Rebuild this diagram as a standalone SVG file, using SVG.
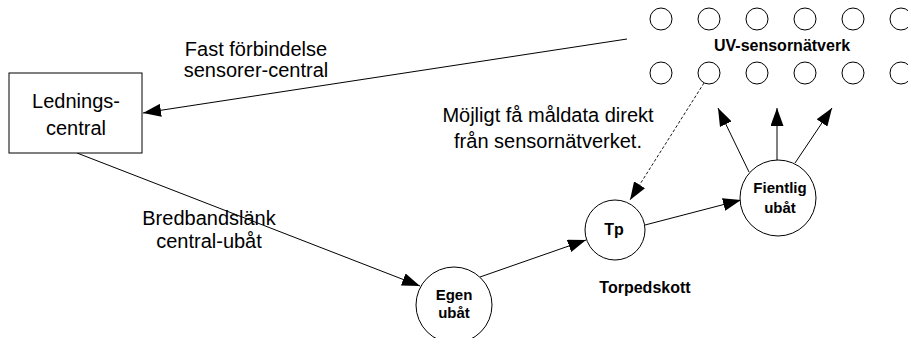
<svg xmlns="http://www.w3.org/2000/svg" width="908" height="338" viewBox="0 0 908 338">
<style>
.n{fill:#fff;stroke:#000;stroke-width:1}
.s{fill:none;stroke:#000;stroke-width:1}
.t{font-family:"Liberation Sans",Arial,sans-serif;font-size:20px;fill:#000;text-anchor:middle}
.b{font-family:"Liberation Sans",Arial,sans-serif;font-size:15px;font-weight:bold;fill:#000;text-anchor:middle}
.c{fill:none;stroke:#000;stroke-width:1}
.d{fill:none;stroke:#000;stroke-width:0.9;stroke-dasharray:3,2}
</style>
<defs>
<marker id="ah" markerUnits="userSpaceOnUse" markerWidth="19" markerHeight="13" refX="18" refY="6.5" orient="auto">
<path d="M0,0 L18,6.5 L0,13 z" fill="#000"/>
</marker>
</defs>
<rect width="908" height="338" fill="#fff"/>
<g id="connectors">
<line class="c" x1="627" y1="39" x2="143" y2="113" marker-end="url(#ah)"/>
<line class="c" x1="77" y1="153" x2="420" y2="286" marker-end="url(#ah)"/>
<line class="c" x1="480" y1="277" x2="586" y2="240" marker-end="url(#ah)"/>
<line class="c" x1="645" y1="225" x2="741" y2="200" marker-end="url(#ah)"/>
<line class="d" x1="704" y1="83" x2="630" y2="200" marker-end="url(#ah)"/>
<line class="c" x1="749" y1="172" x2="718" y2="108" marker-end="url(#ah)"/>
<line class="c" x1="777" y1="160" x2="777" y2="108" marker-end="url(#ah)"/>
<line class="c" x1="795" y1="163" x2="832" y2="108" marker-end="url(#ah)"/>
</g>
<g id="sensornetwork">
<circle class="s" cx="661" cy="19" r="11"/>
<circle class="s" cx="709" cy="19" r="11"/>
<circle class="s" cx="757" cy="19" r="11"/>
<circle class="s" cx="805" cy="19" r="11"/>
<circle class="s" cx="853" cy="19" r="11"/>
<circle class="s" cx="901" cy="19" r="11"/>
<circle class="s" cx="661" cy="73" r="11"/>
<circle class="s" cx="709" cy="73" r="11"/>
<circle class="s" cx="757" cy="73" r="11"/>
<circle class="s" cx="805" cy="73" r="11"/>
<circle class="s" cx="853" cy="73" r="11"/>
<circle class="s" cx="901" cy="73" r="11"/>
<text class="b" x="782" y="51" style="font-size:16px">UV-sensornätverk</text>
</g>
<g id="ledningscentral">
<rect class="n" x="9" y="73" width="133" height="80"/>
<text class="t" x="76" y="108">Lednings-</text>
<text class="t" x="76" y="135">central</text>
</g>
<g id="egen">
<circle class="n" cx="454" cy="305" r="38"/>
<text class="b" x="454" y="300">Egen</text>
<text class="b" x="454" y="318">ubåt</text>
</g>
<g id="tp">
<circle class="n" cx="615" cy="230" r="30"/>
<text class="b" x="614" y="235" style="font-size:16px">Tp</text>
</g>
<g id="fientlig">
<circle class="n" cx="778" cy="198" r="38"/>
<text class="b" x="780" y="193">Fientlig</text>
<text class="b" x="780" y="213">ubåt</text>
</g>
<g id="labels">
<text class="t" x="256" y="56">Fast förbindelse</text>
<text class="t" x="256" y="77">sensorer-central</text>
<text class="t" x="209" y="225">Bredbandslänk</text>
<text class="t" x="209" y="248">central-ubåt</text>
<text class="t" x="548" y="122">Möjligt få måldata direkt</text>
<text class="t" x="548" y="148">från sensornätverket.</text>
<text class="b" x="645" y="293" style="font-size:16px">Torpedskott</text>
</g>
</svg>
